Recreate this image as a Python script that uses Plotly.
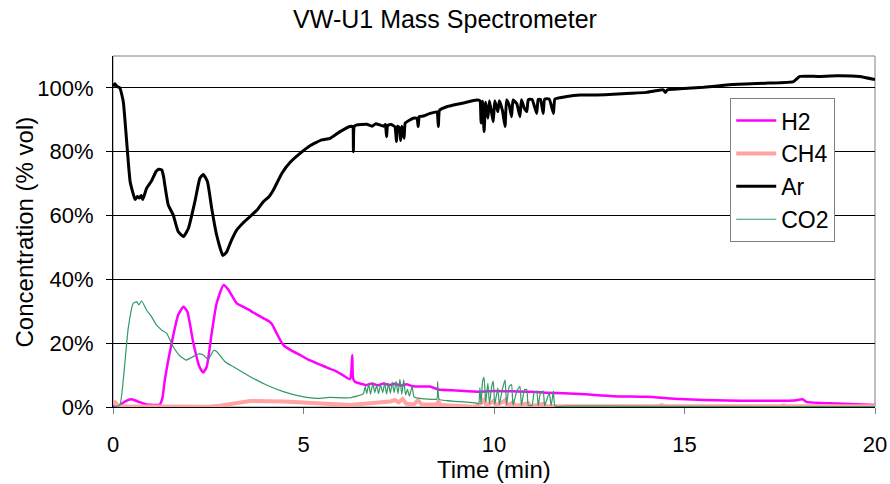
import plotly.graph_objects as go

# ---------------- data (time in min, concentration in % vol) ----------------
ar_t = [0, 0.05, 0.1, 0.18, 0.27, 0.36, 0.45, 0.58, 0.64, 0.69, 0.74, 0.78, 0.88, 1.01, 1.13, 1.2, 1.28, 1.33,
        1.36, 1.45, 1.58, 1.71, 1.85, 1.98, 2.15, 2.28, 2.37, 2.48, 2.59, 2.72, 2.88, 2.98, 3.1, 3.25, 3.4, 3.6,
        3.8, 3.95, 4.1, 4.21, 4.43, 4.65, 4.91, 5.17, 5.48, 5.7, 5.96, 6.22, 6.29, 6.31, 6.33, 6.4, 6.66,
        6.8, 6.9, 7.0, 7.1, 7.15, 7.18, 7.21, 7.3, 7.4, 7.44, 7.47, 7.52, 7.55, 7.58, 7.64, 7.67, 7.8, 7.88,
        7.98, 8.01, 8.04, 8.15, 8.32, 8.5, 8.54, 8.57, 8.76, 9.0, 9.2, 9.54,
        9.63, 9.66, 9.70, 9.74, 9.78, 9.84, 9.88, 9.94, 9.98, 10.02, 10.1, 10.14, 10.22, 10.29, 10.33, 10.4,
        10.46, 10.5, 10.6, 10.68, 10.72, 10.8, 10.86, 10.9, 11.0, 11.12, 11.16, 11.22, 11.29, 11.33, 11.45,
        11.56, 11.6, 11.91, 12.26, 12.7, 13.13, 13.6, 14.0, 14.44, 14.5, 14.55, 14.88, 15.5, 16.1, 16.6,
        17.2, 17.86, 18.03, 18.5, 19.0, 19.6, 20.0]
ar_v = [100.5, 101.3, 100.5, 100, 95.7, 83, 70.6, 65, 66, 65.5, 66.3, 65, 68.5, 70.8, 73.8, 74.5, 74.3, 72,
        69.6, 63.3, 60.2, 55, 53.4, 56, 64.4, 71.7, 72.9, 70.6, 62.3, 53.9, 47.5, 48.5, 52, 55.5, 57.5, 59.7,
        62, 64.4, 66, 68, 73.2, 76.7, 79.5, 81.9, 83.7, 84.2, 86.3, 87.9, 87.9, 80, 87.9, 88.4, 88.6,
        88.0, 88.8, 88.4, 88.0, 88.5, 84.7, 88.3, 88.5, 87.8, 83.2, 88.0, 87.5, 83.5, 88.0, 84.2, 89.0, 90.0, 90.5,
        90.5, 87.9, 91.0, 91.2, 92.0, 92.5, 87.9, 93.0, 94.1, 94.8, 95.3, 96.2,
        96.0, 89.0, 95.8, 86.3, 95.5, 90.5, 96.0, 92.0, 89.4, 96.0, 92.5, 96.0, 93.0, 87.9, 96.2, 94.5,
        91.0, 96.2, 95.0, 91.0, 96.3, 93.5, 92.6, 96.3, 96.4, 92.0, 96.4, 96.4, 92.0, 96.5, 96.5,
        92.0, 96.5, 97.3, 97.8, 97.8, 98.0, 98.3, 98.6, 99.4, 98.6, 99.4, 99.7, 100.2, 100.9, 101.2,
        101.5, 102.0, 103.6, 103.6, 103.8, 103.6, 102.6]

h2_t = [0, 0.05, 0.18, 0.31, 0.49, 0.66, 0.88, 1.23, 1.3, 1.36, 1.54, 1.71, 1.85, 1.95, 2.11, 2.27, 2.37,
        2.46, 2.59, 2.72, 2.9, 3.03, 3.25, 3.42, 3.55, 3.68, 3.8, 3.95, 4.1, 4.17, 4.3, 4.47, 4.7, 4.91,
        5.1, 5.35, 5.55, 5.78, 6.0, 6.22, 6.26, 6.28, 6.3, 6.35, 6.66, 6.8, 6.95, 7.1, 7.25, 7.4, 7.55,
        7.7, 7.85, 8.0, 8.32, 8.54, 9.0, 9.63,
        10.0, 10.5, 11.0, 11.38, 12.26, 13.13, 14.0, 14.88, 16.1, 17.86, 18.1, 18.2, 19.0, 20.0]
h2_v = [0.5, 0, 0.6, 1.7, 2.4, 1.7, 0.8, 0.8, 3, 8.5, 20, 28.8, 31.4, 29.9, 20, 12.6, 10.8,
        12.6, 23.1, 32.5, 38.2, 36.7, 32.5, 31.4, 30.6, 29.6, 28.8, 27.8, 26.8, 26.0, 23.0, 19.4, 17.6, 16.3,
        15.0, 13.7, 12.7, 11.6, 10.2, 8.7, 12, 16.3, 9, 7.9, 6.9, 7.4, 6.8, 7.4, 6.9, 7.3, 6.7,
        7.1, 6.6, 6.4, 6.4, 5.5, 5.2, 4.8,
        5.0, 4.9, 4.8, 4.5, 4.1, 3.4, 3.2, 2.5, 2.0, 2.0, 2.4, 1.6, 1.1, 0.6]

co2_t = [0, 0.18, 0.27, 0.4, 0.53, 0.62, 0.68, 0.75, 0.88, 1.01, 1.14, 1.28, 1.41, 1.58, 1.76, 1.92, 2.07,
         2.24, 2.37, 2.5, 2.64, 2.72, 2.94, 3.16, 3.6, 4.03, 4.47, 4.91, 5.35, 5.7, 6.22, 6.57, 6.62,
         6.66, 6.71, 6.76, 6.82, 6.87, 6.92, 6.97, 7.02, 7.08, 7.13, 7.18, 7.23, 7.28, 7.33, 7.38, 7.43,
         7.48, 7.53, 7.58, 7.63, 7.68, 7.73, 7.78, 7.85, 7.9, 8.06, 8.5, 8.52, 8.56, 8.76, 9.55, 9.6,
         9.63, 9.66, 9.70, 9.74, 9.78, 9.84, 9.88, 9.94, 9.98, 10.02, 10.1, 10.14, 10.22, 10.29, 10.33,
         10.4, 10.46, 10.5, 10.6, 10.68, 10.72, 10.8, 10.86, 10.9, 11.0, 11.05, 11.12, 11.16, 11.22,
         11.29, 11.33, 11.45, 11.5, 11.56, 11.6, 12.0, 14.0, 20.0]
co2_v = [0, 0.6, 8.5, 24.7, 32.5, 33, 32, 33.3, 30.4, 28.3, 25.7, 24.1, 23.1, 18.9, 16, 14.7, 15.6,
         16.6, 16.3, 14.9, 17.7, 17.4, 14.2, 12.6, 9.5, 6.9, 4.8, 3.4, 2.7, 3.0, 2.9, 4.1, 6.5,
         4.2, 7.2, 4.0, 7.5, 4.5, 6.8, 4.2, 7.0, 4.5, 7.6, 4.0, 7.4, 4.3, 7.8, 4.5, 8.0,
         4.2, 8.7, 4.0, 8.5, 3.8, 5.5, 3.4, 6.5, 3.2, 2.7, 2.5, 7.9, 2.4, 2.0, 1.2, 1.0,
         6.0, 1.0, 8.0, 9.3, 1.5, 7.5, 1.0, 6.5, 8.0, 0.8, 6.0, 0.8, 5.5, 8.5, 0.7,
         6.5, 7.0, 0.6, 5.0, 6.5, 0.5, 5.5, 5.5, 0.5, 0.5, 4.5, 5.0, 0.4, 4.5,
         5.0, 0.4, 4.5, 0.4, 5.0, 0.3, 0.3, 0.2, 0.1]

ch4_t = [0, 0.05, 0.15, 1.0, 2.5, 2.8, 3.16, 3.6, 4.5, 5.35, 6.22, 6.6, 7.0, 7.27, 7.4, 7.5, 7.6, 7.7, 7.9,
         8.0, 8.1, 8.5, 8.54, 8.6, 9.5, 9.7, 9.75, 9.8, 10.0, 10.05, 10.3, 10.35, 10.5, 10.55, 10.9,
         10.95, 11.3, 11.35, 11.6, 14.3, 14.4, 14.5, 17.5, 17.6, 17.7, 20.0]
ch4_v = [1.3, 1.5, 0.2, 0.1, 0.1, 0.4, 1.2, 1.9, 1.7, 1.2, 0.6, 1.0, 1.3, 1.7, 2.2, 1.5, 2.5, 1.0, 0.8,
         2.2, 0.8, 0.8, 1.7, 0.6, 0.1, 1.5, 2.7, 0.3, 2.0, 0.3, 2.2, 0.3, 1.5, 0.3, 1.2,
         0.2, 1.0, 0.2, 0.2, 0.2, 0.6, 0.2, 0.2, 0.5, 0.2, 0.2]

y_ticks = [0, 20, 40, 60, 80, 100]
y_tick_labels = ["0%", "20%", "40%", "60%", "80%", "100%"]
x_ticks = [0, 5, 10, 15, 20]

FONT = "Liberation Sans, Arial, sans-serif"

fig = go.Figure()
fig.add_trace(go.Scatter(x=h2_t, y=h2_v, name="H2", mode="lines",
                         line=dict(color="#FF00FF", width=2.5, shape="spline", smoothing=0.5)))
fig.add_trace(go.Scatter(x=ch4_t, y=ch4_v, name="CH4", mode="lines",
                         line=dict(color="#FFA3A3", width=4)))
fig.add_trace(go.Scatter(x=ar_t, y=ar_v, name="Ar", mode="lines",
                         line=dict(color="#000000", width=3, shape="spline", smoothing=0.4)))
fig.add_trace(go.Scatter(x=co2_t, y=co2_v, name="CO2", mode="lines",
                         line=dict(color="#339966", width=1.2, shape="spline", smoothing=0.4)))

fig.update_layout(
    width=890, height=484,
    margin=dict(l=113, r=15, t=56, b=77, autoexpand=False),
    paper_bgcolor="white", plot_bgcolor="white",
    font=dict(family=FONT, size=22, color="black"),
    title=dict(text="VW-U1 Mass Spectrometer", x=0.5, xanchor="center", y=0.96, yanchor="middle",
               font=dict(family=FONT, size=25, color="black")),
    showlegend=True,
    legend=dict(x=0.81, y=0.88, xanchor="left", yanchor="top", bgcolor="white",
                bordercolor="#808080", borderwidth=1, font=dict(family=FONT, size=23),
                tracegroupgap=0, itemwidth=40),
    shapes=[dict(type="rect", xref="paper", yref="paper", x0=0, x1=1, y0=0, y1=1,
                 line=dict(color="#808080", width=1), layer="below")],
    annotations=[
        dict(text="Time (min)", xref="paper", yref="paper", x=0.5, y=-0.178, xanchor="center",
             yanchor="middle", showarrow=False, font=dict(family=FONT, size=24)),
        dict(text="Concentration (% vol)", xref="paper", yref="paper", x=-0.1155, y=0.5,
             xanchor="center", yanchor="middle", textangle=-90, showarrow=False,
             font=dict(family=FONT, size=24)),
    ],
)
fig.update_xaxes(range=[0, 20], tickvals=x_ticks, ticks="outside", ticklen=6, tickcolor="#808080",
                 showline=True, linecolor="black", linewidth=1, showgrid=False, zeroline=False,
                 automargin=False, ticklabelstandoff=12, tickfont=dict(size=22))
fig.update_yaxes(range=[0, 110], tickvals=y_ticks, ticktext=y_tick_labels, ticks="outside", ticklen=6,
                 tickcolor="black", showline=True, linecolor="black", linewidth=1,
                 showgrid=True, gridcolor="black", gridwidth=1, zeroline=False,
                 automargin=False, ticklabelstandoff=8, tickfont=dict(size=22))

fig.write_html("out.html")
